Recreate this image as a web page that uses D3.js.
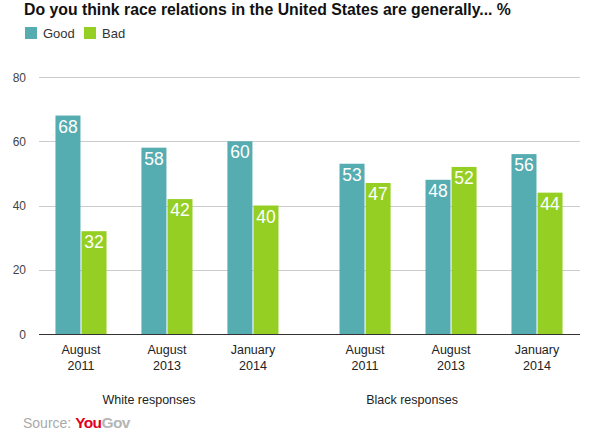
<!DOCTYPE html>
<html><head><meta charset="utf-8">
<script src="https://cdn.jsdelivr.net/npm/d3@7"></script>
<style>body{margin:0;background:#fff}svg{display:block;font-family:"Liberation Sans",Arial,sans-serif}</style>
</head><body>
<script>
const title = "Do you think race relations in the United States are generally... %";
const panels = ["White responses", "Black responses"];
const dates = [["August","2011"],["August","2013"],["January","2014"]];
const seriesNames = ["Good","Bad"];
const colors = ["#55adb1","#95cf24"];
const whiteGood = [68,58,60];
const whiteBad = [32,42,40];
const blackGood = [53,48,56];
const blackBad = [47,52,44];
const yTicks = [0,20,40,60,80];

const panelData = [
  {name: panels[0], good: whiteGood, bad: whiteBad},
  {name: panels[1], good: blackGood, bad: blackBad}
];

const W = 602, H = 434;
const svg = d3.select("body").append("svg").attr("width", W).attr("height", H);

const y = d3.scaleLinear().domain([0,80]).range([334,77]);
const xp = d3.scaleBand().domain(panels).range([38,580]).paddingInner(0.092).paddingOuter(0);
const xd = d3.scaleBand().domain(d3.range(dates.length)).range([0, xp.bandwidth()]).padding(0);
const xs = d3.scaleBand().domain(seriesNames).range([0, xd.bandwidth()]).paddingInner(0.04).paddingOuter(0.67);

// title
svg.append("text").attr("x",24).attr("y",15).attr("font-size",15.8).attr("font-weight","bold")
  .attr("fill","#111").text(title);

// legend
const lg = svg.append("g");
const legX = [25, 84];
seriesNames.forEach((s,i)=>{
  lg.append("rect").attr("x",legX[i]).attr("y",27).attr("width",12).attr("height",12).attr("fill",colors[i]);
  lg.append("text").attr("x",legX[i]+18).attr("y",38).attr("font-size",13).attr("fill","#333").text(s);
});

// grid + y axis
const yAxis = d3.axisLeft(y).tickValues(yTicks).tickSize(0).tickPadding(0);
const ga = svg.append("g").attr("transform","translate(26,0)").call(yAxis);
ga.select(".domain").remove();
ga.selectAll("text").attr("font-size",12).attr("fill","#444").attr("font-family","'Liberation Sans',Arial,sans-serif").attr("dy","0.35em");
svg.append("g").selectAll("line").data(yTicks.filter(t=>t>0)).join("line")
  .attr("x1",39).attr("x2",580).attr("y1",d=>Math.round(y(d))+0.5).attr("y2",d=>Math.round(y(d))+0.5)
  .attr("stroke","#cccccc").attr("stroke-width",1);

// bars
panelData.forEach(p=>{
  const g = svg.append("g").attr("transform",`translate(${xp(p.name)},0)`);
  dates.forEach((d,i)=>{
    const vals = [p.good[i], p.bad[i]];
    const gg = g.append("g").attr("transform",`translate(${xd(i)},0)`);
    vals.forEach((v,j)=>{
      const x0 = xs(seriesNames[j]);
      gg.append("rect").attr("x",x0).attr("y",y(v)).attr("width",xs.bandwidth()).attr("height",y(0)-y(v)).attr("fill",colors[j]);
      gg.append("text").attr("x",x0+xs.bandwidth()/2).attr("y",y(v)+17).attr("text-anchor","middle")
        .attr("font-size",17.5).attr("fill","#fff").text(v);
    });
    const t = gg.append("text").attr("text-anchor","middle").attr("font-size",12.5).attr("fill","#222");
    t.append("tspan").attr("x",xd.bandwidth()/2).attr("y",354).text(d[0]);
    t.append("tspan").attr("x",xd.bandwidth()/2).attr("y",370).text(d[1]);
  });
});
// baseline
svg.append("line").attr("x1",39).attr("x2",580).attr("y1",Math.round(y(0))+0.5).attr("y2",Math.round(y(0))+0.5)
  .attr("stroke","#333").attr("stroke-width",1);

// panel labels
const panelOffsets = [-18, -39];
panels.forEach((p,i)=>{
  svg.append("text").attr("x",xp(p)+xp.bandwidth()/2+panelOffsets[i]).attr("y",404).attr("text-anchor","middle")
    .attr("font-size",12.5).attr("fill","#222").text(p);
});

// source
const src = svg.append("text").attr("x",23).attr("y",428).attr("font-size",14);
src.append("tspan").attr("fill","#aaa").text("Source: ");
src.append("tspan").attr("fill","#e3001b").attr("font-weight","bold").attr("font-size",15.5).attr("letter-spacing","-0.6").text("You");
src.append("tspan").attr("fill","#b5b5b5").attr("font-weight","bold").attr("font-size",15.5).attr("letter-spacing","-0.6").text("Gov");
</script>
</body></html>
